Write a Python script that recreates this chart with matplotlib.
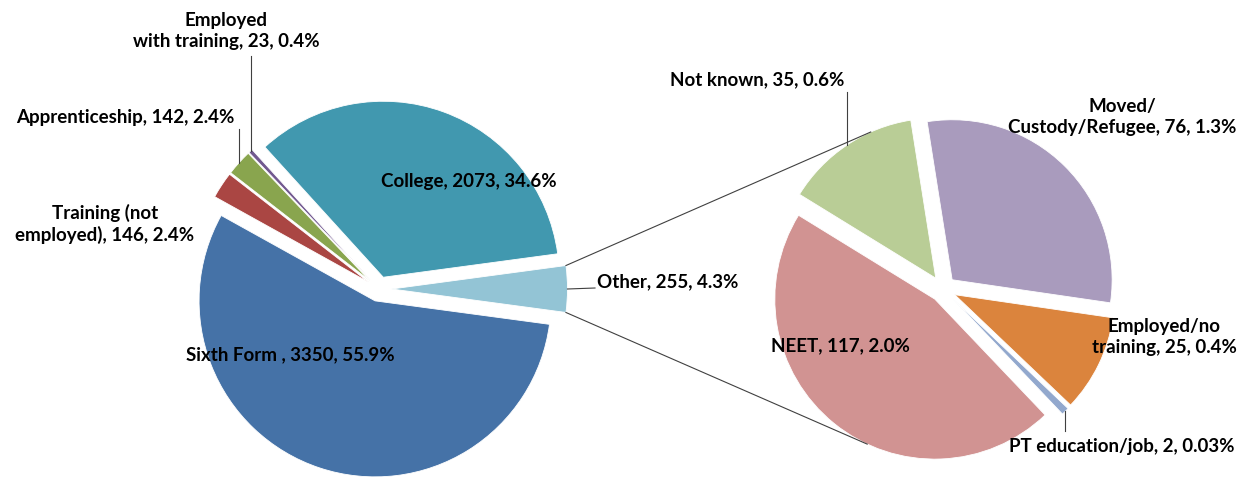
import numpy as np
import matplotlib
matplotlib.use("Agg")
import matplotlib.pyplot as plt

# main pie (counter-clockwise from the "Other" slice)
main_names = ["Other", "College", "Employed\nwith training", "Apprenticeship",
              "Training (not\nemployed)", "Sixth Form "]
main_values = [255, 2073, 23, 142, 146, 3350]
main_colors = ["#93C4D5", "#4198AF", "#71588F", "#89A54E", "#AA4643", "#4572A7"]

# secondary pie, breakdown of "Other"
sub_names = ["Moved/\nCustody/Refugee", "Not known", "NEET", "PT education/job",
             "Employed/no\ntraining"]
sub_values = [76, 35, 117, 2, 25]
sub_colors = ["#A99BBD", "#B9CD96", "#D19392", "#92A8CD", "#DB843D"]

total = sum(main_values)


def make_label(name, value):
    pct = 100.0 * value / total
    p = f"{pct:.2f}%" if pct < 0.1 else f"{pct:.1f}%"
    return f"{name}, {value}, {p}"


H = 481
fig = plt.figure(figsize=(12.5, 4.81), dpi=100)
ax = fig.add_axes([0, 0, 1, 1])

# left pie (explode is in data units here, i.e. pixels)
other_frac = main_values[0] / total
w_main, _ = ax.pie(main_values, colors=main_colors, radius=176,
                   center=(379, H - 290), startangle=-other_frac * 180,
                   explode=[12.5] * len(main_values), counterclock=True,
                   wedgeprops=dict(edgecolor="white", linewidth=0.6))

# right pie
w_sub, _ = ax.pie(sub_values, colors=sub_colors, radius=160,
                  center=(943, H - 290), startangle=-8.3,
                  explode=[13] * len(sub_values), counterclock=True,
                  wedgeprops=dict(edgecolor="white", linewidth=0.6))


def arc_point(w, ang):
    cx, cy = w.center
    a = np.deg2rad(ang)
    return cx + w.r * np.cos(a), cy + w.r * np.sin(a)


def mid_point(w):
    return arc_point(w, (w.theta1 + w.theta2) / 2)


# connector lines between the two pies
o = w_main[0]
p1 = arc_point(o, o.theta2)
p2 = arc_point(o, o.theta1)
q1 = arc_point(w_sub[1], 114)
q2 = arc_point(w_sub[2], 245)
ax.plot([p1[0], q1[0]], [p1[1], q1[1]], color="#404040", lw=0.8)
ax.plot([p2[0], q2[0]], [p2[1], q2[1]], color="#404040", lw=0.8)

tkw = dict(fontsize=13.5, fontweight="bold", family="Lato",
           color="black", linespacing=1.25)

# main labels: (x, y, ha) in pixels from top-left
main_pos = [(597, 282, "left"), (469, 181, "center"), (226, 31, "center"),
            (125, 117, "center"), (105, 224, "center"), (290, 355, "center")]
for name, v, (x, y, ha) in zip(main_names, main_values, main_pos):
    ax.text(x, H - y, make_label(name, v), ha=ha, va="center", **tkw)

sub_pos = [(1122, 117, "center"), (757, 80, "center"), (840, 346, "center"),
           (1122, 447, "center"), (1164, 337, "center")]
for name, v, (x, y, ha) in zip(sub_names, sub_values, sub_pos):
    ax.text(x, H - y, make_label(name, v), ha=ha, va="center", **tkw)

# leader lines
lk = dict(color="#404040", lw=0.8)
for w, end_y in [(w_main[2], 57), (w_main[3], 130),
                 (w_sub[1], 93), (w_sub[3], 432)]:
    x0, y0 = mid_point(w)
    ax.plot([x0, x0], [y0, H - end_y], **lk)
x0, y0 = mid_point(w_main[0])
ax.plot([x0, 595], [y0, H - 289], **lk)

ax.set_xlim(0, 1250)
ax.set_ylim(0, H)
ax.set_aspect("auto")
ax.axis("off")

fig.savefig("out.png", dpi=100, facecolor="white")
